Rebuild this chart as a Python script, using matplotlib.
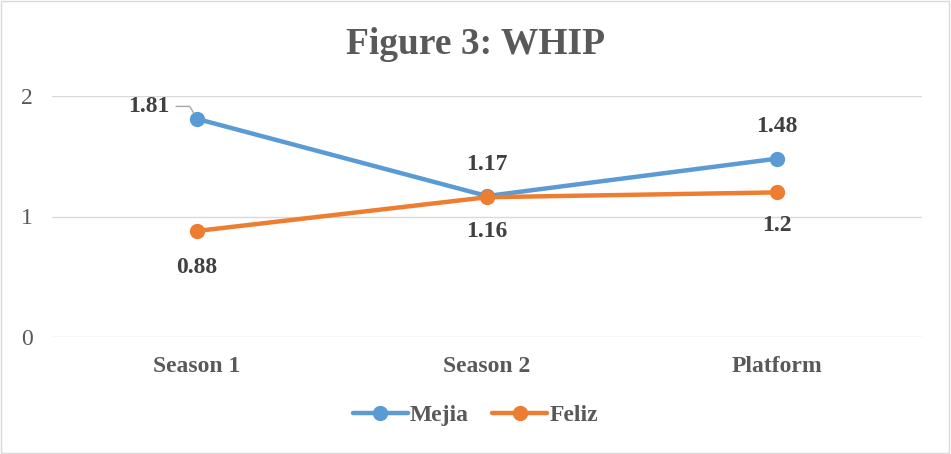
import matplotlib.pyplot as plt
from matplotlib.patches import Rectangle

# Data
categories = ["Season 1", "Season 2", "Platform"]
mejia = [1.81, 1.17, 1.48]
feliz = [0.88, 1.16, 1.2]

plt.rcParams["font.family"] = ["Liberation Serif", "DejaVu Serif"]

fig = plt.figure(figsize=(9.51, 4.54), dpi=100)
ax = fig.add_axes([52 / 951, 1 - 337 / 454, 870 / 951, 241 / 454])

x = range(len(categories))
blue = "#5B9BD5"
orange = "#ED7D31"
ax.plot(x, mejia, color=blue, lw=3.2, marker="o", ms=10, label="Mejia", solid_capstyle="round")
ax.plot(x, feliz, color=orange, lw=3.2, marker="o", ms=10, label="Feliz", solid_capstyle="round")

ax.set_xlim(-0.5, 2.5)
ax.set_ylim(0, 2)
ax.set_yticks([0, 1, 2])
ax.set_xticks(list(x))
ax.set_xticklabels(categories, fontweight="bold", fontsize=17, color="#595959")
ax.tick_params(axis="y", labelsize=17, colors="#595959", length=0, pad=14)
ax.tick_params(axis="x", length=0, pad=14)
ax.grid(axis="y", color="#d9d9d9", lw=1)
ax.set_axisbelow(True)
for s in ax.spines.values():
    s.set_visible(False)

lbl = dict(fontsize=17, fontweight="bold", color="#404040")
# Mejia labels
ax.annotate(f"{mejia[0]}", (0, mejia[0]), xytext=(-35, 9), textcoords="offset points",
            ha="center", va="center", **lbl,
            arrowprops=dict(arrowstyle="-", color="#a6a6a6", lw=1, relpos=(1, 0.5),
                            connectionstyle="angle,angleA=0,angleB=120,rad=0",
                            shrinkA=3, shrinkB=5))
ax.annotate(f"{mejia[1]}", (1, mejia[1]), xytext=(0, 23), textcoords="offset points",
            ha="center", va="center", **lbl)
ax.annotate(f"{mejia[2]}", (2, mejia[2]), xytext=(0, 23), textcoords="offset points",
            ha="center", va="center", **lbl)
# Feliz labels
ax.annotate(f"{feliz[0]}", (0, feliz[0]), xytext=(0, -26), textcoords="offset points",
            ha="center", va="center", **lbl)
ax.annotate(f"{feliz[1]}", (1, feliz[1]), xytext=(0, -25), textcoords="offset points",
            ha="center", va="center", **lbl)
ax.annotate(f"{feliz[2]}", (2, feliz[2]), xytext=(0, -24), textcoords="offset points",
            ha="center", va="center", **lbl)

fig.text(0.5, 1 - 44 / 454, "Figure 3: WHIP", ha="center", va="center",
         fontsize=27, fontweight="bold", color="#595959")

leg = fig.legend(loc="center", bbox_to_anchor=(0.5, 1 - 415 / 454), ncol=2, frameon=False,
                 prop=dict(size=17, weight="bold"), handlelength=2.3, columnspacing=1.0,
                 handletextpad=0.1)
for t in leg.get_texts():
    t.set_color("#595959")

fig.patches.append(Rectangle((0.001, 0.002), 0.997, 0.995, transform=fig.transFigure,
                             fill=False, edgecolor="#d9d9d9", lw=1))

fig.savefig("out.png", dpi=100)
